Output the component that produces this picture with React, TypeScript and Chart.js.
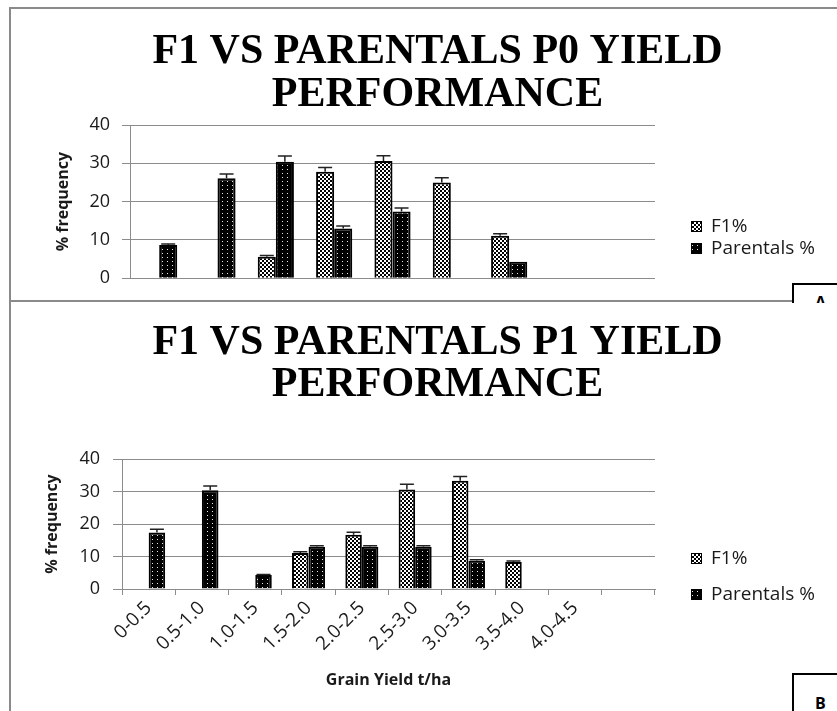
import React, { useEffect, useRef } from "react";
import { Chart, registerables } from "chart.js";

Chart.register(...registerables);

// ---------------- data ----------------
const TITLE_A = ["F1 VS PARENTALS P0 YIELD", "PERFORMANCE"];
const TITLE_B = ["F1 VS PARENTALS P1 YIELD", "PERFORMANCE"];
const SERIES_NAMES = ["F1%", "Parentals %"];
const Y_TITLE = "% frequency";
const X_TITLE_B = "Grain Yield t/ha";
const Y_MIN = 0;
const Y_MAX = 40;
const Y_STEP = 10;

const CATS_A = ["0-0.5", "0.5-1.0", "1.0-1.5", "1.5-2.0", "2.0-2.5", "2.5-3.0", "3.0-3.5", "3.5-4.0", "4.0-4.5"];
const F1_A = [null, null, 5.6, 27.8, 30.6, 25.0, 11.1, null, null];
const PAR_A = [8.7, 26.1, 30.4, 13.0, 17.4, null, 4.3, null, null];
const F1_ERR_A = [0, 0, 0.3, 1.1, 1.4, 1.2, 0.5, 0, 0];
const PAR_ERR_A = [0.2, 1.1, 1.5, 0.6, 0.9, 0, 0, 0, 0];

const CATS_B = ["0-0.5", "0.5-1.0", "1.0-1.5", "1.5-2.0", "2.0-2.5", "2.5-3.0", "3.0-3.5", "3.5-4.0", "4.0-4.5", ""];
const F1_B = [null, null, null, 11.1, 16.7, 30.6, 33.3, 8.3, null, null];
const PAR_B = [17.4, 30.4, 4.3, 13.0, 13.0, 13.0, 8.7, null, null, null];
const F1_ERR_B = [0, 0, 0, 0.4, 0.8, 1.6, 1.3, 0.3, 0, 0];
const PAR_ERR_B = [1.0, 1.3, 0.2, 0.3, 0.3, 0.3, 0.3, 0, 0, 0];

const PANEL_LABELS = ["A", "B"];

// ---------------- styles ----------------
const GRID = "#8c8c8c";
const TEXT = "#1a1a1a";
const SANS = '"Open Sans", "Noto Sans", sans-serif';

function checkerPattern(ctx: CanvasRenderingContext2D) {
  const c = document.createElement("canvas");
  c.width = 4;
  c.height = 4;
  const g = c.getContext("2d")!;
  g.fillStyle = "#ffffff";
  g.fillRect(0, 0, 4, 4);
  g.fillStyle = "#000000";
  g.fillRect(0, 0, 2, 2);
  g.fillRect(2, 2, 2, 2);
  return ctx.createPattern(c, "repeat");
}

function dotPattern(ctx: CanvasRenderingContext2D) {
  const c = document.createElement("canvas");
  c.width = 5;
  c.height = 4;
  const g = c.getContext("2d")!;
  g.fillStyle = "#000000";
  g.fillRect(0, 0, 5, 4);
  g.fillStyle = "#e8e8e8";
  g.fillRect(2, 1, 1, 1);
  return ctx.createPattern(c, "repeat");
}

const errorBarPlugin = {
  id: "errorBars",
  afterDatasetsDraw(chart: any) {
    const ctx = chart.ctx;
    const yScale = chart.scales.y;
    ctx.save();
    ctx.strokeStyle = "#222";
    ctx.lineWidth = 1.5;
    chart.data.datasets.forEach((ds: any, i: number) => {
      const meta = chart.getDatasetMeta(i);
      meta.data.forEach((bar: any, j: number) => {
        const v = ds.data[j];
        const e = ds.errors ? ds.errors[j] : 0;
        if (v == null || !e) return;
        const yTop = yScale.getPixelForValue(v + e);
        const yV = yScale.getPixelForValue(v);
        const x = bar.x;
        ctx.beginPath();
        ctx.moveTo(x, yV);
        ctx.lineTo(x, yTop);
        ctx.moveTo(x - 7, yTop);
        ctx.lineTo(x + 7, yTop);
        ctx.stroke();
      });
    });
    ctx.restore();
  },
};

const decorPlugin = {
  id: "panelDecor",
  afterDraw(chart: any, _args: any, opts: any) {
    const ctx = chart.ctx;
    ctx.save();
    ctx.fillStyle = "#000";
    ctx.font = `bold ${opts.titleSize}px "Liberation Serif", serif`;
    ctx.textAlign = "center";
    ctx.textBaseline = "middle";
    (opts.title as string[]).forEach((t, i) => ctx.fillText(t, opts.titleX, opts.titleY[i]));
    chart.data.datasets.forEach((ds: any, i: number) => {
      const y = opts.legendY[i];
      const x = opts.legendX;
      ctx.fillStyle = ds.backgroundColor;
      ctx.fillRect(x, y - 5, 11, 11);
      ctx.strokeStyle = "#000";
      ctx.lineWidth = 1;
      ctx.strokeRect(x + 0.5, y - 4.5, 10, 10);
      ctx.fillStyle = TEXT;
      ctx.font = `19px ${SANS}`;
      ctx.textAlign = "left";
      ctx.textBaseline = "middle";
      ctx.fillText(ds.label, x + 20, y + 1);
    });
    ctx.restore();
  },
};

interface PanelCfg {
  cats: string[];
  f1: (number | null)[];
  par: (number | null)[];
  f1Err: number[];
  parErr: number[];
  title: string[];
  titleY: number[];
  legendY: number[];
  padding: { left: number; top: number; right: number; bottom: number };
  yWidth: number;
  yTitlePad: number;
  yTickLen: number;
  yTickPad: number;
  showX: boolean;
  xHeight: number;
  xTitlePadBottom: number;
}

function Panel({ cfg, w, h, left, top }: { cfg: PanelCfg; w: number; h: number; left: number; top: number }) {
  const ref = useRef<HTMLCanvasElement>(null);
  useEffect(() => {
    const canvas = ref.current!;
    const ctx = canvas.getContext("2d")!;
    const f1Fill = checkerPattern(ctx);
    const parFill = dotPattern(ctx);
    const chart = new Chart(canvas, {
      type: "bar",
      data: {
        labels: cfg.cats,
        datasets: [
          {
            label: SERIES_NAMES[0],
            data: cfg.f1,
            errors: cfg.f1Err,
            backgroundColor: f1Fill,
            borderColor: "#000",
            borderWidth: 2,
            categoryPercentage: 0.62,
            barPercentage: 1,
          } as any,
          {
            label: SERIES_NAMES[1],
            data: cfg.par,
            errors: cfg.parErr,
            backgroundColor: parFill,
            borderColor: "#000",
            borderWidth: 2,
            categoryPercentage: 0.62,
            barPercentage: 1,
          } as any,
        ],
      },
      options: {
        animation: false,
        responsive: true,
        maintainAspectRatio: false,
        layout: { padding: cfg.padding },
        plugins: {
          legend: { display: false },
          title: { display: false },
          tooltip: { enabled: false },
          panelDecor: {
            title: cfg.title,
            titleX: 427.5,
            titleY: cfg.titleY,
            titleSize: 42,
            legendX: 681,
            legendY: cfg.legendY,
          },
        } as any,
        scales: {
          x: {
            display: cfg.showX,
            offset: true,
            grid: {
              display: true,
              drawOnChartArea: false,
              drawTicks: true,
              tickLength: 6,
              color: GRID,
              offset: true,
            },
            border: { display: true, color: GRID },
            ticks: {
              autoSkip: false,
              minRotation: 45,
              maxRotation: 45,
              color: TEXT,
              padding: 2,
              font: { family: SANS, size: 19 },
            },
            title: {
              display: cfg.showX,
              text: X_TITLE_B,
              color: TEXT,
              font: { family: SANS, size: 16, weight: "bold" },
              padding: { top: 0, bottom: cfg.xTitlePadBottom },
            },
            afterFit: (s: any) => {
              s.height = cfg.xHeight;
            },
          },
          y: {
            min: Y_MIN,
            max: Y_MAX,
            ticks: {
              stepSize: Y_STEP,
              color: TEXT,
              padding: cfg.yTickPad,
              font: { family: SANS, size: 18 },
            },
            grid: { color: GRID, lineWidth: 1, drawTicks: true, tickLength: cfg.yTickLen },
            border: { display: true, color: GRID },
            title: {
              display: true,
              text: Y_TITLE,
              color: TEXT,
              font: { family: SANS, size: 16, weight: "bold" },
              padding: { top: cfg.yTitlePad, bottom: 0 },
            },
            afterFit: (s: any) => {
              s.width = cfg.yWidth;
            },
          },
        },
      },
      plugins: [errorBarPlugin, decorPlugin],
    } as any);
    return () => chart.destroy();
  }, [cfg]);
  return (
    <div style={{ position: "absolute", left, top, width: w, height: h }}>
      <canvas ref={ref} />
    </div>
  );
}

const CFG_A: PanelCfg = {
  cats: CATS_A,
  f1: F1_A,
  par: PAR_A,
  f1Err: F1_ERR_A,
  parErr: PAR_ERR_A,
  title: TITLE_A,
  titleY: [44, 87],
  legendY: [218, 240],
  padding: { left: 40, top: 117, right: 182, bottom: 14 },
  yWidth: 80,
  yTitlePad: 4,
  yTickLen: 8,
  yTickPad: 12,
  showX: false,
  xHeight: 0,
  xTitlePadBottom: 0,
};

const CFG_B: PanelCfg = {
  cats: CATS_B,
  f1: F1_B,
  par: PAR_B,
  f1Err: F1_ERR_B,
  parErr: PAR_ERR_B,
  title: TITLE_B,
  titleY: [41, 83],
  legendY: [256, 292],
  padding: { left: 22, top: 157, right: 182, bottom: 10 },
  yWidth: 90,
  yTitlePad: 11,
  yTickLen: 9,
  yTickPad: 13,
  showX: true,
  xHeight: 112,
  xTitlePadBottom: 11,
};

export default function App() {
  return (
    <div
      style={{
        position: "absolute",
        left: 0,
        top: 0,
        width: 837,
        height: 711,
        background: "#fff",
        overflow: "hidden",
      }}
    >
      {/* frame lines */}
      <div style={{ position: "absolute", left: 9, top: 7, width: 2, height: 704, background: "#8a8a8a" }} />
      <div style={{ position: "absolute", left: 9, top: 7, width: 828, height: 2, background: "#8a8a8a" }} />
      <div style={{ position: "absolute", left: 9, top: 300, width: 784, height: 2, background: "#8a8a8a" }} />
      <Panel cfg={CFG_A} w={827} h={293} left={10} top={8} />
      <Panel cfg={CFG_B} w={827} h={409} left={10} top={302} />
      {/* panel label boxes */}
      <div
        style={{
          position: "absolute",
          left: 792,
          top: 283,
          width: 60,
          height: 18,
          borderLeft: "2px solid #000",
          borderTop: "2px solid #000",
          overflow: "hidden",
          background: "#fff",
        }}
      >
        <span
          style={{
            position: "absolute",
            left: 21,
            top: 9,
            fontFamily: SANS,
            fontWeight: "bold",
            fontSize: 16,
            lineHeight: "16px",
            color: "#000",
          }}
        >
          {PANEL_LABELS[0]}
        </span>
      </div>
      <div
        style={{
          position: "absolute",
          left: 792,
          top: 673,
          width: 60,
          height: 40,
          borderLeft: "2px solid #000",
          borderTop: "2px solid #000",
          overflow: "hidden",
          background: "#fff",
        }}
      >
        <span
          style={{
            position: "absolute",
            left: 21,
            top: 20,
            fontFamily: SANS,
            fontWeight: "bold",
            fontSize: 16,
            lineHeight: "16px",
            color: "#000",
          }}
        >
          {PANEL_LABELS[1]}
        </span>
      </div>
    </div>
  );
}
